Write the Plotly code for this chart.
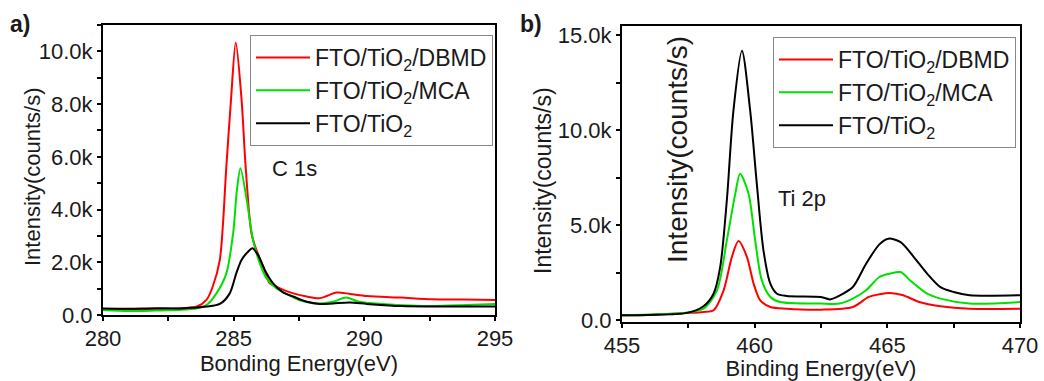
import plotly.graph_objects as go

# ---- Panel a) C 1s ----
c1s_energy = [280.0, 281.0, 282.0, 283.0, 283.6, 283.96, 284.2, 284.47, 284.72, 284.9, 285.08,
              285.3, 285.46, 285.68, 285.87, 286.13, 286.38, 286.64, 286.9, 287.28, 287.8,
              288.3, 288.94, 289.45, 290.1, 291.4, 292.6, 293.8, 295.0]
c1s_dbmd = [220, 230, 210, 260, 320, 570, 1080, 2090, 5630, 8200, 10340,
            8200, 5600, 3100, 2470, 1840, 1200, 1080, 950, 820, 700,
            640, 850, 800, 720, 660, 600, 590, 570]

c1s_mca_energy = [280.0, 281.0, 282.0, 283.0, 283.6, 283.96, 284.34, 284.72, 284.98, 285.12, 285.26,
                  285.5, 285.74, 286.0, 286.26, 286.64, 287.0, 287.5, 288.17, 288.8, 289.3,
                  289.8, 290.7, 292.6, 293.9, 295.0]
c1s_mca = [190, 150, 170, 200, 260, 380, 820, 1580, 3100, 4700, 5570,
           4370, 2850, 1960, 1390, 1010, 820, 570, 440, 500, 660,
           500, 420, 340, 380, 420]

c1s_ref_energy = [280.0, 281.0, 282.0, 283.0, 283.96, 284.47, 284.85, 285.1, 285.3, 285.55, 285.72,
                  285.93, 286.19, 286.51, 286.9, 287.28, 287.8, 288.3, 288.8, 289.45, 290.1,
                  291.4, 293.0, 295.0]
c1s_ref = [250, 240, 260, 250, 320, 420, 820, 1580, 2090, 2400, 2530,
           2280, 1710, 1200, 850, 700, 500, 420, 440, 470, 420,
           340, 320, 320]

# ---- Panel b) Ti 2p ----
ti_ref_energy = [455.0, 456.0, 457.45, 458.07, 458.45, 458.7, 458.95, 459.2, 459.52, 459.83, 460.08,
                 460.33, 460.59, 460.84, 461.2, 462.5, 462.85, 463.2, 463.7, 464.2, 464.7,
                 465.04, 465.5, 466.0, 466.5, 467.0, 467.5, 468.1, 470.0]
ti_ref = [260, 280, 390, 740, 1400, 2800, 6300, 11050, 14200, 11050, 7200,
          3700, 1930, 1400, 1280, 1230, 1100, 1300, 1750, 2980, 4000,
          4300, 4120, 3330, 2460, 1750, 1490, 1320, 1320]

ti_mca_energy = [455.0, 456.0, 457.4, 458.07, 458.58, 458.95, 459.27, 459.45, 459.77, 460.02, 460.27,
                 460.59, 460.96, 462.5, 463.2, 463.7, 464.2, 464.7, 465.1, 465.5, 465.86,
                 466.5, 467.0, 468.1, 470.0]
ti_mca = [260, 300, 400, 610, 1580, 4200, 6670, 7720, 6670, 4200, 2100,
          1230, 960, 880, 880, 1140, 1580, 2280, 2460, 2540, 2100,
          1400, 1140, 880, 960]

ti_dbmd_energy = [455.0, 456.0, 457.4, 458.07, 458.45, 458.83, 459.14, 459.39, 459.71, 459.96, 460.21,
                  460.59, 461.2, 462.5, 463.7, 464.3, 464.7, 465.1, 465.6, 466.2, 467.0,
                  468.1, 470.0]
ti_dbmd = [260, 280, 380, 440, 530, 1580, 3330, 4170, 3330, 1930, 1050,
           700, 610, 560, 700, 1230, 1370, 1440, 1320, 960, 740,
           610, 610]

names = ["FTO/TiO<sub>2</sub>/DBMD", "FTO/TiO<sub>2</sub>/MCA", "FTO/TiO<sub>2</sub>"]
colors = ["#ff0000", "#00e000", "#000000"]

# tick labels
c1s_x_ticks = [280, 285, 290, 295]
c1s_y_ticks = [0, 2000, 4000, 6000, 8000, 10000]
c1s_y_labels = ["0.0", "2.0k", "4.0k", "6.0k", "8.0k", "10.0k"]
ti_x_ticks = [455, 460, 465, 470]
ti_y_ticks = [0, 5000, 10000, 15000]
ti_y_labels = ["0.0", "5.0k", "10.0k", "15.0k"]

FONT = "Arial, 'Liberation Sans', sans-serif"
TXT = "#1a1a1a"

fig = go.Figure()

left = [(c1s_energy, c1s_dbmd), (c1s_mca_energy, c1s_mca), (c1s_ref_energy, c1s_ref)]
right = [(ti_dbmd_energy, ti_dbmd), (ti_mca_energy, ti_mca), (ti_ref_energy, ti_ref)]

for i, (x, y) in enumerate(left):
    fig.add_trace(go.Scatter(x=x, y=y, mode="lines", name=names[i],
                             line=dict(color=colors[i], width=2, shape="spline", smoothing=0.8),
                             xaxis="x", yaxis="y", legend="legend"))
for i, (x, y) in enumerate(right):
    fig.add_trace(go.Scatter(x=x, y=y, mode="lines", name=names[i],
                             line=dict(color=colors[i], width=2, shape="spline", smoothing=0.8),
                             xaxis="x2", yaxis="y2", legend="legend2"))


def ax(**kw):
    d = dict(showline=True, linecolor="black", linewidth=2, mirror=True,
             ticks="outside", ticklen=4, tickwidth=2, tickcolor="black",
             showgrid=False, zeroline=False, automargin=False,
             tickfont=dict(family=FONT, size=22, color=TXT))
    d.update(kw)
    return d


minor_x = dict(ticks="outside", ticklen=4, tickwidth=2, tickcolor="black", dtick=2.5, showgrid=False)

W, H = 1044, 381
fig.update_layout(
    width=W, height=H,
    margin=dict(l=0, r=0, t=0, b=0),
    paper_bgcolor="white", plot_bgcolor="white",
    font=dict(family=FONT, size=22, color=TXT),
    showlegend=True,
    xaxis=ax(domain=[103/W, 495/W], range=[280, 295], tickvals=c1s_x_ticks,
             minor=dict(minor_x, tick0=280), ticklabelstandoff=-1,
             title=dict(text="Bonding Energy(eV)", font=dict(size=22), standoff=0),
             anchor="y"),
    yaxis=ax(domain=[66/H, 356/H], range=[0, 11000], tickvals=c1s_y_ticks, ticktext=c1s_y_labels,
             minor=dict(ticks="outside", ticklen=4, tickwidth=2, tickcolor="black", dtick=1000, showgrid=False),
             anchor="x"),
    xaxis2=ax(domain=[622/W, 1020/W], range=[455, 470], tickvals=ti_x_ticks,
              minor=dict(minor_x, tick0=455), ticklabelstandoff=-1,
              title=dict(text="Binding Energy(eV)", font=dict(size=22), standoff=0),
              anchor="y2"),
    yaxis2=ax(domain=[59/H, 355/H], range=[-90, 15500], tickvals=ti_y_ticks, ticktext=ti_y_labels,
              minor=dict(ticks="outside", ticklen=4, tickwidth=2, tickcolor="black", dtick=2500, showgrid=False),
              anchor="x2"),
    legend=dict(x=250/W, y=1 - 35/H, xanchor="left", yanchor="top",
                bordercolor="#888", borderwidth=1, bgcolor="white", itemwidth=54,
                font=dict(family=FONT, size=23, color=TXT), tracegroupgap=0),
    legend2=dict(x=773/W, y=1 - 37/H, xanchor="left", yanchor="top",
                 bordercolor="#888", borderwidth=1, bgcolor="white", itemwidth=54,
                 font=dict(family=FONT, size=23, color=TXT), tracegroupgap=0),
    annotations=[
        dict(text="Intensity(counts/s)", x=32/W, y=1 - 177/H, xref="paper", yref="paper",
             xanchor="center", yanchor="middle", textangle=-90, showarrow=False,
             font=dict(size=22)),
        dict(text="Intensity(counts/s)", x=543/W, y=1 - 181/H, xref="paper", yref="paper",
             xanchor="center", yanchor="middle", textangle=-90, showarrow=False,
             font=dict(size=23)),
        dict(text="C 1s", x=270/W, y=1 - 168/H, xref="paper", yref="paper",
             xanchor="left", yanchor="middle", showarrow=False, font=dict(size=22)),
        dict(text="Ti 2p", x=776/W, y=1 - 198/H, xref="paper", yref="paper",
             xanchor="left", yanchor="middle", showarrow=False, font=dict(size=22)),
        dict(text="Intensity(counts/s)", x=677/W, y=1 - 150/H, xref="paper", yref="paper",
             xanchor="center", yanchor="middle", textangle=-90, showarrow=False,
             font=dict(size=28)),
        dict(text="<b>a)</b>", x=8/W, y=1 - 24/H, xref="paper", yref="paper",
             xanchor="left", yanchor="middle", showarrow=False, font=dict(size=23)),
        dict(text="<b>b)</b>", x=518/W, y=1 - 24/H, xref="paper", yref="paper",
             xanchor="left", yanchor="middle", showarrow=False, font=dict(size=23)),
    ],
)

fig.write_html("out.html", config={"displayModeBar": False},
               post_script="document.body.style.margin='0px';")
